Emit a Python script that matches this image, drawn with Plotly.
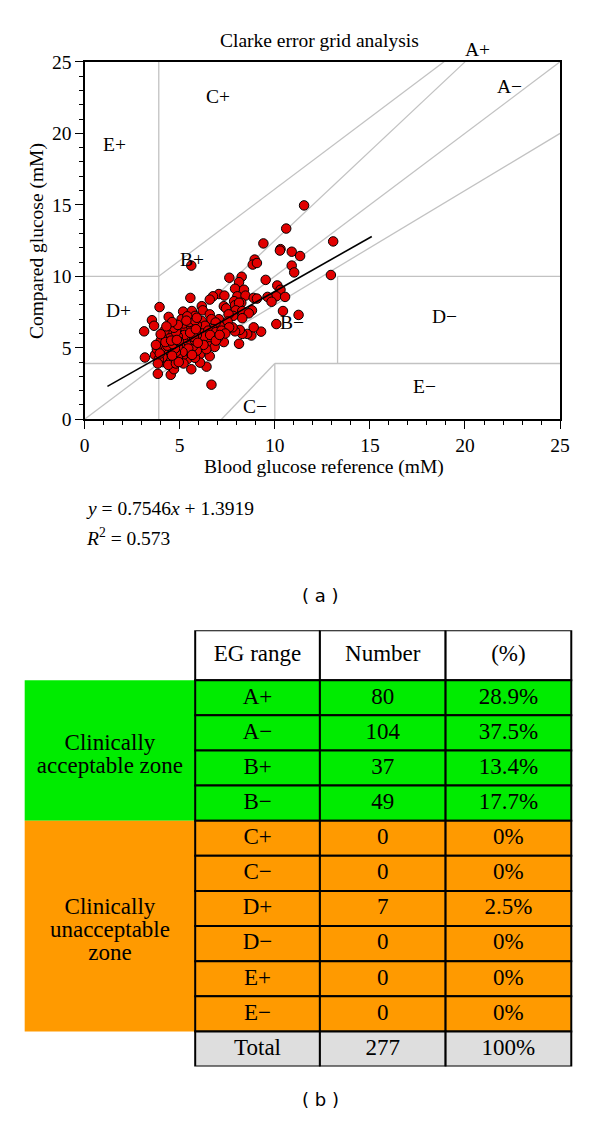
import plotly.graph_objects as go

# page is 600 x 1127; the default html body has an 8px margin, so the figure is
# drawn 8px in from each edge and is 16px smaller than the page.
PAGE_W, PAGE_H = 600, 1127
OFF = 8
FW, FH = PAGE_W - 2 * OFF, PAGE_H - 2 * OFF
SERIF = "Liberation Serif"
SANS = "DejaVu Sans"
MINUS = "\u2212"

# ---------------- scatter data (mM) ----------------
ref_glucose = [
    # high / outliers
    11.54, 10.60, 9.40, 10.30, 10.27, 10.89, 11.33, 13.07, 10.89, 11.02, 8.94, 8.84,
    9.06, 12.95, 5.61,
    # band x 7.5-11
    7.61, 8.26, 8.12, 9.52, 7.91, 8.38, 10.13, 10.30, 10.08, 10.54,
    9.62, 9.83, 8.03, 8.46, 8.89, 7.86, 8.24, 10.43, 11.25, 10.08,
    9.28, 8.77, 8.55, 8.29, 8.16, 7.91, 7.78, 8.89, 8.12, 9.06, 8.80,
    # x 6-8.5
    7.06, 7.35, 6.75, 6.58, 6.16, 6.21, 7.32, 7.44, 7.91, 8.12,
    7.95, 8.29, 8.63, 7.81, 7.57, 8.29, 7.06, 7.52, 7.10, 7.60,
    6.58, 6.67, 6.89, 7.32, 7.01, 6.75, 6.44, 6.55, 6.84, 6.07,
    6.58, 6.41, 6.07, 6.67, 6.16, 6.33, 6.75, 6.20, 6.50, 6.90,
    6.30, 6.60, 7.20, 7.40, 6.90, 7.10, 6.40, 6.25,
    # x 5-6
    5.18, 5.64, 5.81, 5.56, 5.61, 5.10, 5.40, 5.80, 5.20, 5.50,
    5.90, 5.00, 5.30, 5.70, 5.10, 5.40, 5.80, 5.00, 5.30, 5.60,
    5.90, 5.10, 5.40, 5.70, 5.00, 5.30, 5.60, 5.90, 5.20, 5.50,
    5.80, 5.10, 5.40, 5.90, 5.05, 5.45, 5.75, 5.25, 5.55, 5.85,
    5.15, 5.65, 5.35, 5.95, 5.20,
    # x 4-5
    4.42, 4.53, 4.70, 4.10, 4.30, 4.60, 4.90, 4.20, 4.50, 4.80, 4.00, 4.30,
    4.60, 4.90, 4.10, 4.40, 4.70, 4.00, 4.30, 4.60, 4.90, 4.20, 4.50, 4.80,
    4.40, 4.70, 4.90, 4.60, 4.20, 4.15, 4.45, 4.75, 4.05, 4.35, 4.65, 4.95,
    4.25, 4.55, 4.85, 4.10, 4.40, 4.80, 4.95, 4.60, 4.30, 4.00,
    # x < 4
    3.13, 3.54, 3.65, 3.94, 3.17, 3.85, 3.70, 3.80, 3.75, 3.90, 3.95, 3.85,
]
compared_glucose = [
    # high / outliers
    14.96, 13.34, 12.30, 11.90, 11.80, 11.72, 11.42, 12.44, 10.75, 10.27, 11.17, 10.82,
    10.93, 10.09, 10.75,
    # band x 7.5-11
    9.90, 9.97, 9.59, 9.75, 9.13, 9.06, 9.36, 9.06, 8.60, 8.56,
    8.56, 8.22, 8.60, 8.65, 8.49, 8.26, 8.15, 7.57, 7.30, 6.66,
    6.13, 5.86, 5.97, 5.97, 6.25, 6.15, 6.43, 6.43, 5.28, 8.44, 7.62,
    # x 6-8.5
    8.76, 8.65, 8.60, 8.37, 7.91, 7.62, 7.91, 7.76, 7.98, 8.15,
    7.62, 7.57, 7.41, 7.23, 7.34, 7.07, 7.00, 6.84, 6.54, 6.43,
    7.34, 7.00, 6.77, 5.40, 5.70, 5.74, 5.56, 5.10, 5.06, 4.55,
    4.41, 3.68, 3.96, 2.42, 6.88, 6.54, 6.31, 6.00, 6.20, 6.10,
    5.80, 5.90, 6.20, 6.00, 5.50, 5.90, 4.90, 5.20,
    # x 5-6
    7.53, 7.57, 7.23, 8.49, 3.50, 4.00, 4.20, 4.30, 4.50, 4.70,
    4.80, 4.90, 5.00, 5.10, 5.30, 5.40, 5.50, 5.60, 5.70, 5.80,
    5.90, 6.00, 6.10, 6.20, 6.30, 6.40, 6.50, 6.60, 6.70, 6.80,
    6.90, 7.00, 7.20, 7.10, 5.05, 4.95, 5.75, 5.90, 6.05, 6.30,
    4.70, 4.50, 6.90, 5.35, 3.90,
    # x 4-5
    7.16, 3.11, 3.50, 4.00, 4.20, 4.10, 4.30, 4.50, 4.60, 4.70, 4.80, 4.90,
    5.00, 5.10, 5.20, 5.30, 5.40, 5.50, 5.60, 5.70, 5.80, 5.90, 6.00, 6.10,
    6.30, 6.40, 6.60, 6.80, 6.20, 4.65, 4.35, 4.95, 5.00, 5.15, 5.25, 5.45,
    5.40, 5.50, 5.55, 4.35, 3.80, 3.90, 4.00, 4.45, 6.50, 5.95,
    # x < 4
    6.15, 6.93, 6.54, 7.85, 4.32, 3.18, 4.50, 4.90, 5.20, 4.20, 4.60, 3.90,
]

fit_slope = 0.7546
fit_intercept = 1.3919
fit_r2 = 0.573
fit_x_range = [1.2, 15.1]

# zone labels (in mM, the axes' units)
zone_names = ["E+", "C+", "A+", "A" + MINUS, "B+", "D+", "B" + MINUS, "D" + MINUS, "E" + MINUS, "C" + MINUS]
zone_label_x = [1.55, 7.0, 20.65, 22.35, 5.65, 1.8, 10.9, 18.9, 17.85, 8.95]
zone_label_y = [19.2, 22.6, 25.85, 23.3, 11.2, 7.6, 6.8, 7.2, 2.3, 0.9]

# Clarke error grid boundaries (mM)
grid_x0 = [0.0, 3.12, 3.9, 0.0, 3.9, 0.0, 3.9, 7.2, 10.0, 10.0, 13.3, 13.3]
grid_y0 = [0.0, 3.9, 3.12, 3.9, 0.0, 10.0, 10.0, 0.0, 0.0, 3.9, 3.9, 10.0]
grid_x1 = [25.0, 20.0, 25.0, 3.9, 3.9, 3.9, 18.9, 10.0, 10.0, 25.0, 13.3, 25.0]
grid_y1 = [25.0, 25.0, 20.0, 3.9, 25.0, 10.0, 25.0, 3.9, 3.9, 3.9, 10.0, 10.0]

# table (b)
table_headers = ["EG range", "Number", "(%)"]
eg_ranges = ["A+", "A" + MINUS, "B+", "B" + MINUS, "C+", "C" + MINUS, "D+", "D" + MINUS, "E+", "E" + MINUS]
eg_numbers = [80, 104, 37, 49, 0, 0, 7, 0, 0, 0]
eg_percent = ["28.9%", "37.5%", "13.4%", "17.7%", "0%", "0%", "2.5%", "0%", "0%", "0%"]
total_label, total_number, total_percent = "Total", 277, "100%"
group_lines = [["Clinically", "acceptable zone"], ["Clinically", "unacceptable", "zone"]]
group_rows = [4, 6]
group_colors = ["#00ec00", "#ff9a00"]
total_color = "#dedede"

# ---------------- layout constants (page pixels) ----------------
AX_RANGE = [0, 25]
PLOT_L, PLOT_R, PLOT_T, PLOT_B = 81.5, 569.5, 52.7, 417.0
TABLE_T, HEADER_H, ROW_H = 632.0, 51.0, 35.8
COL_EDGES = [195, 323, 452, 581]
LEFT_X0 = 20
n_rows = len(eg_ranges) + 1
TABLE_HGT = HEADER_H + ROW_H * n_rows


def xp(px):  # page x pixel -> paper x
    return (px - OFF) / FW


def yp(py):  # page y pixel -> paper y
    return 1 - (py - OFF) / FH


X_DOM = [xp(PLOT_L), xp(PLOT_R)]
Y_DOM = [yp(PLOT_B), yp(PLOT_T)]


def data_to_paper(v, dom):  # main-axis value -> paper fraction (works beyond the range)
    return dom[0] + (v - AX_RANGE[0]) / (AX_RANGE[1] - AX_RANGE[0]) * (dom[1] - dom[0])


fig = go.Figure()

# grid boundaries
gx, gy = [], []
for x0, y0, x1, y1 in zip(grid_x0, grid_y0, grid_x1, grid_y1):
    gx += [x0, x1, None]
    gy += [y0, y1, None]
fig.add_trace(go.Scatter(x=gx, y=gy, mode="lines", line=dict(color="#c2c2c2", width=1.3),
                         hoverinfo="skip", showlegend=False))

# points
fig.add_trace(go.Scatter(x=ref_glucose, y=compared_glucose, mode="markers",
                         marker=dict(size=9.5, color="#e10000", line=dict(color="black", width=1)),
                         showlegend=False))

# regression line
fit_y = [fit_slope * x + fit_intercept for x in fit_x_range]
fig.add_trace(go.Scatter(x=fit_x_range, y=fit_y, mode="lines", line=dict(color="black", width=1.6),
                         showlegend=False))

# ---------------- table ----------------
shapes = []
tx, ty, tt = [], [], []
col_centers = [(COL_EDGES[i] + COL_EDGES[i + 1]) / 2 for i in range(3)]

start = 0
for lines, nr, color in zip(group_lines, group_rows, group_colors):
    y0 = HEADER_H + start * ROW_H
    y1 = y0 + nr * ROW_H
    shapes.append(dict(type="rect", xref="x2", yref="y2", x0=LEFT_X0, x1=COL_EDGES[0], y0=y0, y1=y1,
                       fillcolor=color, line=dict(width=0), layer="below"))
    yc = (y0 + y1) / 2
    for i, ln in enumerate(lines):
        tx.append((LEFT_X0 + COL_EDGES[0]) / 2)
        ty.append(yc + (i - (len(lines) - 1) / 2) * 23.5 + 5)
        tt.append(ln)
    start += nr

row_colors = []
for color, nr in zip(group_colors, group_rows):
    row_colors += [color] * nr

for c in range(3):
    shapes.append(dict(type="rect", xref="x2", yref="y2", x0=COL_EDGES[c], x1=COL_EDGES[c + 1],
                       y0=0, y1=HEADER_H, fillcolor="white", line=dict(color="black", width=2),
                       layer="below"))
    tx.append(col_centers[c]); ty.append(HEADER_H / 2); tt.append(table_headers[c])

rows = [[r, str(n), p] for r, n, p in zip(eg_ranges, eg_numbers, eg_percent)]
rows.append([total_label, str(total_number), total_percent])
row_colors.append(total_color)
for r, (vals, color) in enumerate(zip(rows, row_colors)):
    y0 = HEADER_H + r * ROW_H
    for c in range(3):
        shapes.append(dict(type="rect", xref="x2", yref="y2", x0=COL_EDGES[c], x1=COL_EDGES[c + 1],
                           y0=y0, y1=y0 + ROW_H, fillcolor=color, line=dict(color="black", width=2),
                           layer="below"))
        tx.append(col_centers[c]); ty.append(y0 + ROW_H / 2); tt.append(vals[c])

fig.add_trace(go.Scatter(x=tx, y=ty, text=tt, mode="text", xaxis="x2", yaxis="y2",
                         textfont=dict(family=SERIF, size=23, color="black"),
                         cliponaxis=False, showlegend=False, hoverinfo="skip"))

# ---------------- axes & annotations ----------------
axis_common = dict(range=AX_RANGE, tick0=0, dtick=5, ticks="outside", ticklen=7.5, tickwidth=1.3,
                   tickcolor="black", showline=True, linecolor="black", linewidth=1.5, mirror=True,
                   showgrid=False, zeroline=False, fixedrange=True,
                   tickfont=dict(family=SERIF, size=19.5, color="black"),
                   minor=dict(dtick=1, ticks="outside", ticklen=4, tickwidth=1, tickcolor="black",
                              showgrid=False))


def ann(text, px, py, size=19.5, family=SERIF, xanchor="center", **kw):
    return dict(text=text, x=xp(px), y=yp(py), xref="paper", yref="paper", xanchor=xanchor,
                yanchor="middle", showarrow=False, font=dict(family=family, size=size, color="black"),
                **kw)


annotations = [
    ann("Clarke error grid analysis", 322.7, 31),
    ann("Blood glucose reference (mM)", 327, 466),
    ann("Compared glucose (mM)", 32, 235, textangle=-90),
    ann("<i>y</i> = %.4f<i>x</i> + %.4f" % (fit_slope, fit_intercept), 81, 508, xanchor="left"),
    ann("<i>R</i><sup>2</sup> = %.3f" % fit_r2, 81, 537, xanchor="left"),
    ann("( a )", 324, 597, size=18, family=SANS),
    ann("( b )", 324, 1110, size=18, family=SANS),
]

# zone labels: placed through the main axes' scale (A+ sits just above the frame)
for name, lx, ly in zip(zone_names, zone_label_x, zone_label_y):
    annotations.append(dict(text=name, x=data_to_paper(lx, X_DOM), y=data_to_paper(ly, Y_DOM),
                            xref="paper", yref="paper", xanchor="center", yanchor="middle",
                            showarrow=False, font=dict(family=SERIF, size=19.5, color="black")))

fig.update_layout(
    width=FW, height=FH, margin=dict(l=0, r=0, t=0, b=0),
    paper_bgcolor="white", plot_bgcolor="rgba(0,0,0,0)", showlegend=False,
    xaxis=dict(domain=X_DOM, anchor="y", **axis_common),
    yaxis=dict(domain=Y_DOM, anchor="x", **axis_common),
    xaxis2=dict(domain=[0, 1], range=[OFF, OFF + FW], visible=False, anchor="y2", fixedrange=True),
    yaxis2=dict(domain=[yp(TABLE_T + TABLE_HGT), yp(TABLE_T)], range=[TABLE_HGT, 0], visible=False,
                anchor="x2", fixedrange=True),
    shapes=shapes, annotations=annotations,
)

fig.write_html("out.html")
